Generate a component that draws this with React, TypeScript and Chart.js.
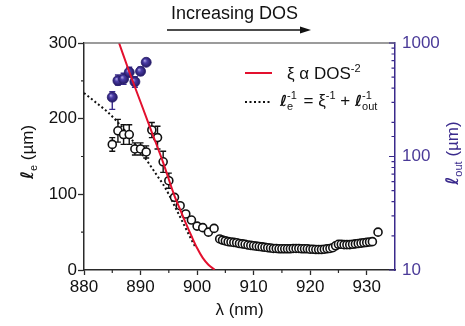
import React, { useEffect, useRef } from 'react';
import { Chart, registerables } from 'chart.js';
Chart.register(...registerables);

// ---- data ----
const wavelengths = [885, 886, 887, 888, 889, 890, 891, 892, 893, 894, 895, 896, 897, 898, 899, 900, 901, 902, 903,
  904, 904.5, 905, 905.5, 906, 906.5, 907, 907.5, 908, 908.5, 909, 909.5, 910, 910.5, 911, 911.5, 912, 912.5, 913, 913.5,
  914, 914.5, 915, 915.5, 916, 916.5, 917, 917.5, 918, 918.5, 919, 919.5, 920, 920.5, 921, 921.5, 922, 922.5, 923, 923.5,
  924, 924.5, 925, 925.5, 926, 926.5, 927, 927.5, 928, 928.5, 929, 929.5, 930, 930.5, 931, 932];
const ellE = [166, 184, 179, 179, 160, 160, 156, 185, 175, 143, 118, 96, 85, 74, 66, 58, 56, 50, 55,
  41, 39.5, 38.5, 37.5, 37, 36.5, 36, 35, 34.5, 34, 33, 32.5, 32, 31.5, 31, 30.5, 30, 29.5, 29, 28.5,
  28.5, 28, 28, 28, 28, 28, 28.5, 28.5, 28.5, 28, 28, 28, 27.5, 27.5, 27, 27, 27, 27.5, 28, 28.5,
  29.5, 32, 34, 34, 33.5, 33.5, 33.5, 34, 34.5, 35, 35.5, 36, 36.5, 37, 37.5, 50];
const ellEErr = [9, 15, 13, 13, 8, 8, 8, 10, 15, 14, 10];

const outWavelengths = [885, 886, 887, 888, 889, 890, 891];
const ellOut = [333, 466, 482, 552, 456, 563, 676];
const ellOutErrLow = [73, 39, 50, 50, 49, 41, 0];
const ellOutErrHigh = [39, 56, 59, 59, 49, 48, 0];

const xiWavelengths = [886.2, 888, 890, 892, 894, 896, 897, 898, 899, 900, 901, 902, 903.1];
const xiValues = [300, 262, 222, 182, 142, 98, 80, 62, 45, 29, 16, 7, 0.5];

const modelWavelengths = [880, 882, 884, 886, 888, 890, 891, 892, 893, 894, 895, 896, 897, 898, 899, 899.8];
const modelValues = [234, 222, 210, 195, 177, 156, 146, 135, 124, 113, 100, 85, 70, 55, 40, 29];

const xMajorTicks = [880, 890, 900, 910, 920, 930];
const xMinorTicks = [885, 895, 905, 915, 925, 935];
const yMinorTicks = [50, 150, 250];
const rightMajorTicks = [10, 100, 1000];

const FONT = '"Liberation Sans", Arial, sans-serif';
const PURPLE = '#3a2a8c';
const RED = '#e3102e';
const AXIS = '#2a2a2a';

type Seg = { t: string; font: string; dy?: number };

function drawRich(ctx: CanvasRenderingContext2D, segs: Seg[], x: number, y: number) {
  let cx = x;
  for (const s of segs) {
    ctx.font = s.font;
    ctx.fillText(s.t, cx, y + (s.dy || 0));
    cx += ctx.measureText(s.t).width;
  }
  return cx;
}
function measureRich(ctx: CanvasRenderingContext2D, segs: Seg[]) {
  let w = 0;
  for (const s of segs) {
    ctx.font = s.font;
    w += ctx.measureText(s.t).width;
  }
  return w;
}

const ELL = 'bold italic 17px "DejaVu Sans"';
const ELL_S = 'bold italic 15px "DejaVu Sans"';
const TXT = `17px ${FONT}`;
const SUB = `11px ${FONT}`;

const errorBarPlugin = {
  id: 'errorBars',
  beforeDatasetsDraw(chart: any) {
    const { ctx, scales } = chart;
    const xs = scales.x, yl = scales.y, yr = scales.y2;
    ctx.save();
    ctx.lineWidth = 1.4;
    const bar = (px: number, top: number, bot: number) => {
      ctx.beginPath();
      ctx.moveTo(px, top); ctx.lineTo(px, bot);
      ctx.moveTo(px - 3, top); ctx.lineTo(px + 3, top);
      ctx.moveTo(px - 3, bot); ctx.lineTo(px + 3, bot);
      ctx.stroke();
    };
    ctx.strokeStyle = '#111';
    ellEErr.forEach((e, i) => {
      if (!e) return;
      const px = xs.getPixelForValue(wavelengths[i]);
      bar(px, yl.getPixelForValue(ellE[i] + e), yl.getPixelForValue(ellE[i] - e));
    });
    ctx.strokeStyle = PURPLE;
    outWavelengths.forEach((w, i) => {
      if (!ellOutErrLow[i] && !ellOutErrHigh[i]) return;
      const px = xs.getPixelForValue(w);
      bar(px, yr.getPixelForValue(ellOut[i] + ellOutErrHigh[i]), yr.getPixelForValue(ellOut[i] - ellOutErrLow[i]));
    });
    ctx.restore();
  },
};

const decorPlugin = {
  id: 'decor',
  afterDraw(chart: any) {
    const { ctx, chartArea: a, scales } = chart;
    const xs = scales.x, yl = scales.y, yr = scales.y2;
    ctx.save();
    // top frame line
    ctx.strokeStyle = '#7a7a7a';
    ctx.lineWidth = 1.5;
    ctx.beginPath(); ctx.moveTo(a.left, a.top); ctx.lineTo(a.right, a.top); ctx.stroke();
    // minor ticks
    ctx.strokeStyle = AXIS;
    ctx.lineWidth = 1.2;
    ctx.beginPath();
    xMinorTicks.forEach((v) => {
      const px = xs.getPixelForValue(v);
      if (px > a.right - 1) return;
      ctx.moveTo(px, a.bottom); ctx.lineTo(px, a.bottom + 3);
    });
    yMinorTicks.forEach((v) => {
      const py = yl.getPixelForValue(v);
      ctx.moveTo(a.left, py); ctx.lineTo(a.left - 3, py);
    });
    ctx.stroke();
    // right axis inward ticks
    ctx.strokeStyle = PURPLE;
    ctx.beginPath();
    yr.ticks.forEach((t: any) => {
      const py = yr.getPixelForValue(t.value);
      const len = rightMajorTicks.includes(t.value) ? 6 : 3.5;
      ctx.moveTo(a.right, py); ctx.lineTo(a.right - len, py);
    });
    ctx.stroke();

    // title + arrow
    ctx.fillStyle = '#111';
    ctx.textBaseline = 'alphabetic';
    ctx.textAlign = 'left';
    ctx.font = `18px ${FONT}`;
    ctx.fillText('Increasing DOS', 171, 19);
    ctx.strokeStyle = '#111';
    ctx.lineWidth = 1.5;
    ctx.beginPath(); ctx.moveTo(167, 30); ctx.lineTo(303, 30); ctx.stroke();
    ctx.beginPath(); ctx.moveTo(311, 30); ctx.lineTo(300, 26.5); ctx.lineTo(300, 33.5); ctx.closePath(); ctx.fill();

    // x title
    ctx.font = TXT;
    const xt = 'λ (nm)';
    const xw = ctx.measureText(xt).width;
    ctx.fillText(xt, (a.left + a.right) / 2 - xw / 2, 315);

    // left title
    const leftSegs: Seg[] = [
      { t: 'ℓ', font: ELL },
      { t: 'e', font: SUB, dy: 4 },
      { t: ' (µm)', font: TXT },
    ];
    ctx.save();
    ctx.translate(33, 152);
    ctx.rotate(-Math.PI / 2);
    drawRich(ctx, leftSegs, -measureRich(ctx, leftSegs) / 2, 0);
    ctx.restore();

    // right title
    const rightSegs: Seg[] = [
      { t: 'ℓ', font: ELL },
      { t: 'out', font: SUB, dy: 4 },
      { t: ' (µm)', font: TXT },
    ];
    ctx.save();
    ctx.fillStyle = PURPLE;
    ctx.translate(458, 153);
    ctx.rotate(-Math.PI / 2);
    drawRich(ctx, rightSegs, -measureRich(ctx, rightSegs) / 2, 0);
    ctx.restore();

    // legend
    ctx.strokeStyle = RED;
    ctx.lineWidth = 2;
    ctx.beginPath(); ctx.moveTo(245, 73); ctx.lineTo(272, 73); ctx.stroke();
    ctx.fillStyle = '#111';
    drawRich(ctx, [
      { t: 'ξ α DOS', font: TXT },
      { t: '-2', font: SUB, dy: -7 },
    ], 287, 79);
    ctx.strokeStyle = '#111';
    ctx.lineWidth = 2;
    ctx.setLineDash([2, 2.5]);
    ctx.beginPath(); ctx.moveTo(245, 102); ctx.lineTo(272, 102); ctx.stroke();
    ctx.setLineDash([]);
    drawRich(ctx, [
      { t: 'ℓ', font: ELL_S },
      { t: '-1', font: SUB, dy: -7 },
    ], 280, 106);
    ctx.font = ELL_S;
    const lw = ctx.measureText('ℓ').width;
    ctx.font = SUB;
    ctx.fillText('e', 280 + lw, 110);
    let cx = 280 + lw + ctx.measureText('-1').width + 2;
    cx = drawRich(ctx, [{ t: ' = ξ', font: TXT }, { t: '-1', font: SUB, dy: -7 }, { t: ' + ', font: TXT }, { t: 'ℓ', font: ELL_S }], cx, 106);
    ctx.font = SUB;
    ctx.fillText('-1', cx, 99);
    ctx.fillText('out', cx, 110);
    ctx.restore();
  },
};

function sphereFill(c: any) {
  const ch = c.chart;
  const r = c.raw;
  if (!r || !ch.scales || !ch.scales.x || !ch.scales.y2) return '#3d2f96';
  const px = ch.scales.x.getPixelForValue(r.x);
  const py = ch.scales.y2.getPixelForValue(r.y);
  if (!isFinite(px) || !isFinite(py)) return '#3d2f96';
  const g = ch.ctx.createRadialGradient(px - 1.6, py - 1.8, 0.3, px, py, 5.2);
  g.addColorStop(0, '#a79ee0');
  g.addColorStop(0.35, '#4a3ca6');
  g.addColorStop(1, '#21175e');
  return g;
}

export default function App() {
  const ref = useRef<HTMLCanvasElement | null>(null);
  useEffect(() => {
    if (!ref.current) return;
    const chart = new Chart(ref.current, {
      type: 'line',
      data: {
        datasets: [
          {
            label: 'xi',
            data: xiWavelengths.map((x, i) => ({ x, y: xiValues[i] })),
            borderColor: RED,
            borderWidth: 2,
            pointRadius: 0,
            cubicInterpolationMode: 'monotone',
            yAxisID: 'y',
            order: 0,
          },
          {
            label: 'lout',
            data: outWavelengths.map((x, i) => ({ x, y: ellOut[i] })),
            showLine: false,
            pointRadius: 5,
            pointBackgroundColor: sphereFill,
            pointBorderColor: '#2a1e6e',
            pointBorderWidth: 0.8,
            yAxisID: 'y2',
            order: 1,
          },
          {
            label: 'le',
            data: wavelengths.map((x, i) => ({ x, y: ellE[i] })),
            showLine: false,
            pointRadius: 4,
            pointBackgroundColor: '#ffffff',
            pointBorderColor: '#111',
            pointBorderWidth: 1.6,
            yAxisID: 'y',
            order: 2,
          },
          {
            label: 'model',
            data: modelWavelengths.map((x, i) => ({ x, y: modelValues[i] })),
            borderColor: '#111',
            borderWidth: 2,
            borderDash: [2, 2.5],
            pointRadius: 0,
            cubicInterpolationMode: 'monotone',
            yAxisID: 'y',
            order: 3,
          },
        ],
      },
      options: {
        animation: false,
        responsive: false,
        devicePixelRatio: 1,
        layout: { padding: { top: 43, left: 0, right: 0, bottom: 0 } },
        plugins: { legend: { display: false }, tooltip: { enabled: false }, title: { display: false } },
        scales: {
          x: {
            type: 'linear',
            min: 880,
            max: 935,
            afterFit: (s: any) => { s.height = 56; },
            afterBuildTicks: (s: any) => { s.ticks = xMajorTicks.map((v) => ({ value: v })); },
            ticks: { font: { family: FONT, size: 17 }, color: '#111', padding: 2, maxRotation: 0 },
            grid: { display: true, drawOnChartArea: false, drawTicks: true, tickLength: 5, color: AXIS, tickWidth: 1.3 },
            border: { display: true, color: AXIS, width: 1.5 },
          },
          y: {
            type: 'linear',
            position: 'left',
            min: 0,
            max: 300,
            afterFit: (s: any) => { s.width = 84; },
            ticks: { stepSize: 100, font: { family: FONT, size: 17 }, color: '#111', padding: 1 },
            grid: { display: true, drawOnChartArea: false, drawTicks: true, tickLength: 6, color: AXIS, tickWidth: 1.3 },
            border: { display: true, color: AXIS, width: 1.5 },
          },
          y2: {
            type: 'logarithmic',
            position: 'right',
            min: 10,
            max: 1000,
            afterFit: (s: any) => { s.width = 70; },
            ticks: {
              autoSkip: false,
              font: { family: FONT, size: 17 },
              color: '#4a3a98',
              padding: 7,
              callback: (v: any) => (rightMajorTicks.includes(Number(v)) ? String(v) : ''),
            },
            grid: { display: true, drawOnChartArea: false, drawTicks: false },
            border: { display: true, color: PURPLE, width: 1.5 },
          },
        },
      },
      plugins: [errorBarPlugin, decorPlugin],
    } as any);
    return () => chart.destroy();
  }, []);
  return (
    <div style={{ position: 'fixed', left: 0, top: 0, width: 465, height: 326, background: '#fff' }}>
      <canvas ref={ref} width={465} height={326} style={{ width: 465, height: 326 }} />
    </div>
  );
}
